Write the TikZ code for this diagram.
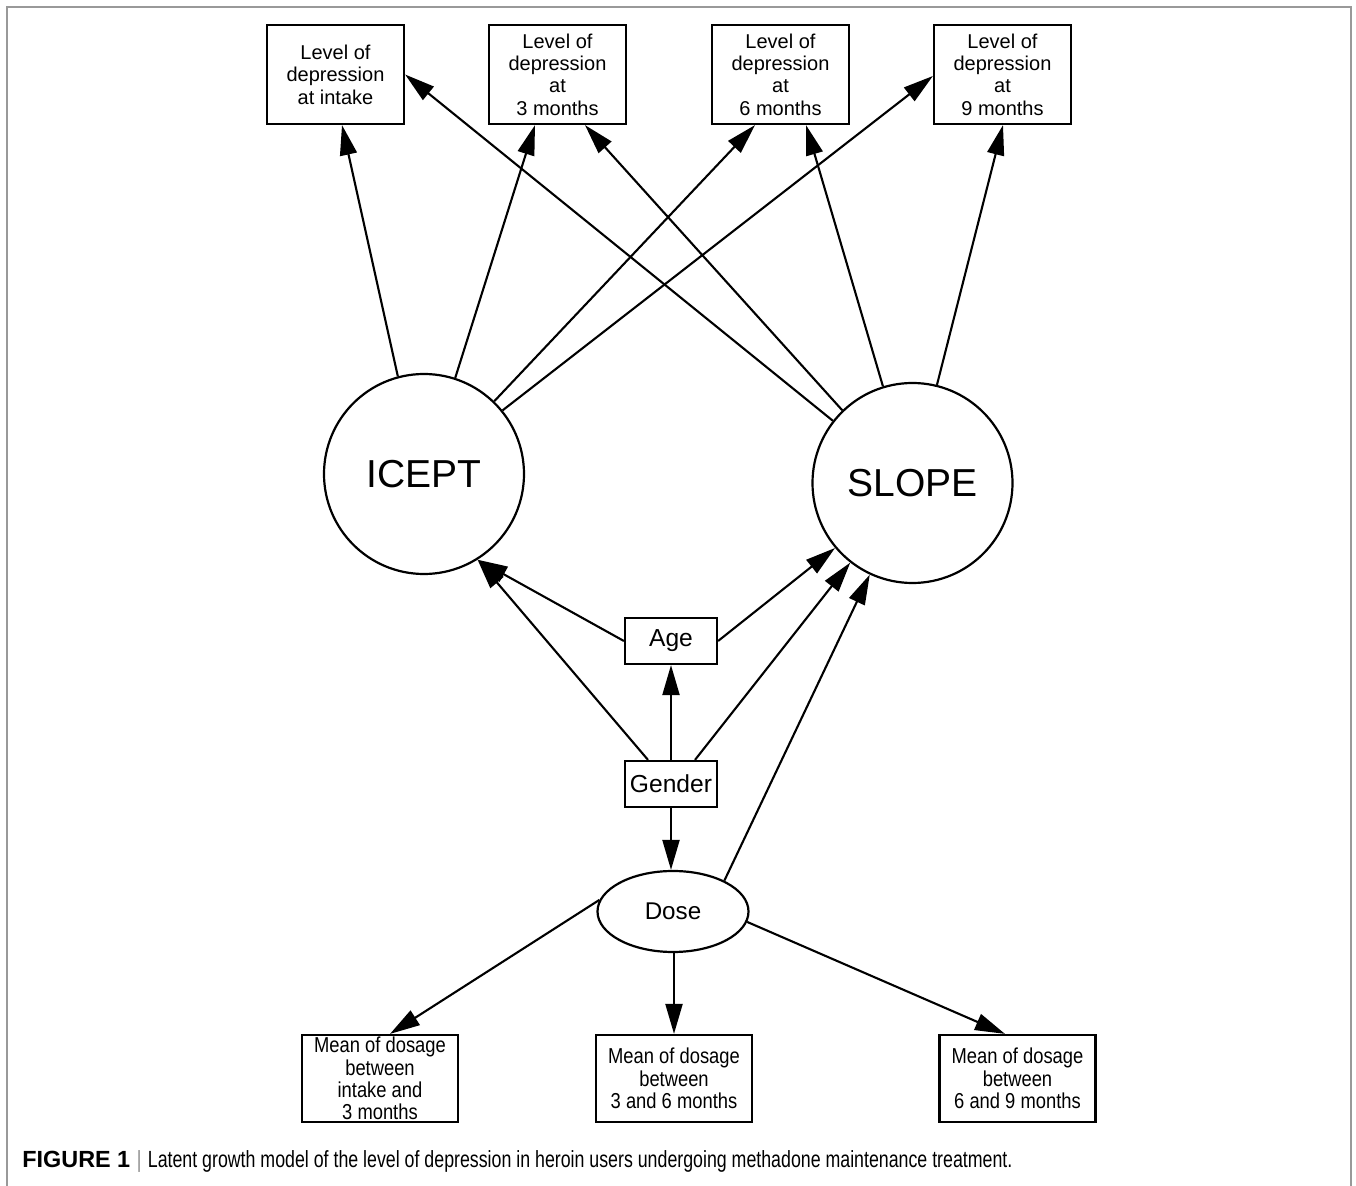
\documentclass[tikz,border=0pt]{standalone}
\usepackage{fontspec}
\setmainfont{Liberation Sans}
\newfontfamily\narrowfont[FakeStretch=0.85]{Liberation Sans}
\newfontfamily\capfont[FakeStretch=0.76]{Liberation Sans}
\newfontfamily\capbold{Liberation Sans Bold}
\usetikzlibrary{arrows.meta,shapes.geometric,calc}
\tikzset{
  lvlbox/.style={draw, line width=1.1pt, rectangle, inner sep=0pt, minimum width=68.5pt, minimum height=49.5pt, align=center, font=\fontsize{10pt}{11.2pt}\selectfont},
  meanbox/.style={draw, line width=1.1pt, rectangle, inner sep=0pt, minimum width=78pt, minimum height=43.5pt, align=center, font=\narrowfont\fontsize{10.8pt}{11.15pt}\selectfont},
  smallbox/.style={draw, line width=1.1pt, rectangle, inner sep=0pt, minimum width=46pt, minimum height=23pt, font=\fontsize{12.3pt}{14pt}\selectfont},
  latent/.style={draw, line width=1.1pt, circle, inner sep=0pt, minimum size=100pt, font=\fontsize{19.5pt}{22pt}\selectfont},
  doseell/.style={draw, line width=1.1pt, ellipse, inner sep=0pt, minimum width=75.5pt, minimum height=40.5pt, font=\fontsize{12.1pt}{14pt}\selectfont},
  arr/.style={-{Triangle[length=15pt,width=8.5pt]}, line width=1.05pt},
  frame/.style={draw=black!40, line width=1pt}
}
\begin{document}
\begin{tikzpicture}[x=0.5pt,y=-0.5pt]
\useasboundingbox (0,0) rectangle (1356,1186);
\fill[white] (0,0) rectangle (1356,1186);
\draw[frame] (7,1186) -- (7,7) -- (1351,7) -- (1351,1186);

% top boxes
\node[lvlbox] (B0) at (335.5,74.5) {Level of\\depression\\at intake};
\node[lvlbox] (B1) at (557.5,74.5) {Level of\\depression\\at\\3 months};
\node[lvlbox] (B2) at (780.5,74.5) {Level of\\depression\\at\\6 months};
\node[lvlbox] (B3) at (1002.5,74.5) {Level of\\depression\\at\\9 months};

% latent factors
\node[latent] (ICEPT) at (424,474) {ICEPT};
\node[latent] (SLOPE) at (912.5,483) {SLOPE};

% covariates
\node[smallbox] (Age) at (671,641) {Age};
\node[smallbox] (Gender) at (671,784) {Gender};
\node[doseell] (Dose) at (673,911.5) {Dose};

% bottom boxes
\node[meanbox] (M0) at (380,1078.5) {Mean of dosage\\between\\intake and\\3 months};
\node[meanbox] (M1) at (674,1078.5) {Mean of dosage\\between\\3 and 6 months};
\node[meanbox] (M2) at (1017.5,1078.5) {Mean of dosage\\between\\6 and 9 months};

% loadings
\draw[arr] (ICEPT.105) -- ($(B0.south)+(6.5,0)$);
\draw[arr] (ICEPT.72) -- ($(B1.south)+(-22.5,0)$);
\draw[arr] (ICEPT.46) -- ($(B2.south)+(-25.5,0)$);
\draw[arr] (ICEPT.39) -- ($(B3.west)+(0,1.5)$);
\draw[arr] (SLOPE.142) -- (B0.east);
\draw[arr] (SLOPE.134) -- ($(B1.south)+(27.5,0)$);
\draw[arr] (SLOPE.107) -- ($(B2.south)+(25.5,0)$);
\draw[arr] (SLOPE.76) -- ($(B3.south)+(0.5,0)$);

% covariate paths
\draw[arr] (Age.west) -- (ICEPT.-58);
\draw[arr] ($(Gender.north)+(-23,0)$) -- (ICEPT.-58);
\draw[arr] (Age.east) -- (SLOPE.-140);
\draw[arr] ($(Gender.north)+(24,0)$) -- (SLOPE.-128);
\draw[arr] (Dose.31) -- (SLOPE.-115);
\draw[arr] (Gender.north) -- (Age.south);
\draw[arr] (Gender.south) -- (Gender.south |- Dose.north);

% dose indicators
\draw[arr] (Dose.171) -- ($(M0.north)+(10,0)$);
\draw[arr] (M1.north |- Dose.south) -- (M1.north);
\draw[arr] (Dose.-8) -- ($(M2.north)+(-12.5,0)$);

% caption
\node[anchor=west, inner sep=0pt] (cap) at (22,1162) {\resizebox{495pt}{!}{\fontsize{9pt}{10pt}\selectfont{\capbold FIGURE 1} {\capfont\color{black!45}|} \capfont Latent growth model of the level of depression in heroin users undergoing methadone maintenance treatment.}};
\end{tikzpicture}
\end{document}
